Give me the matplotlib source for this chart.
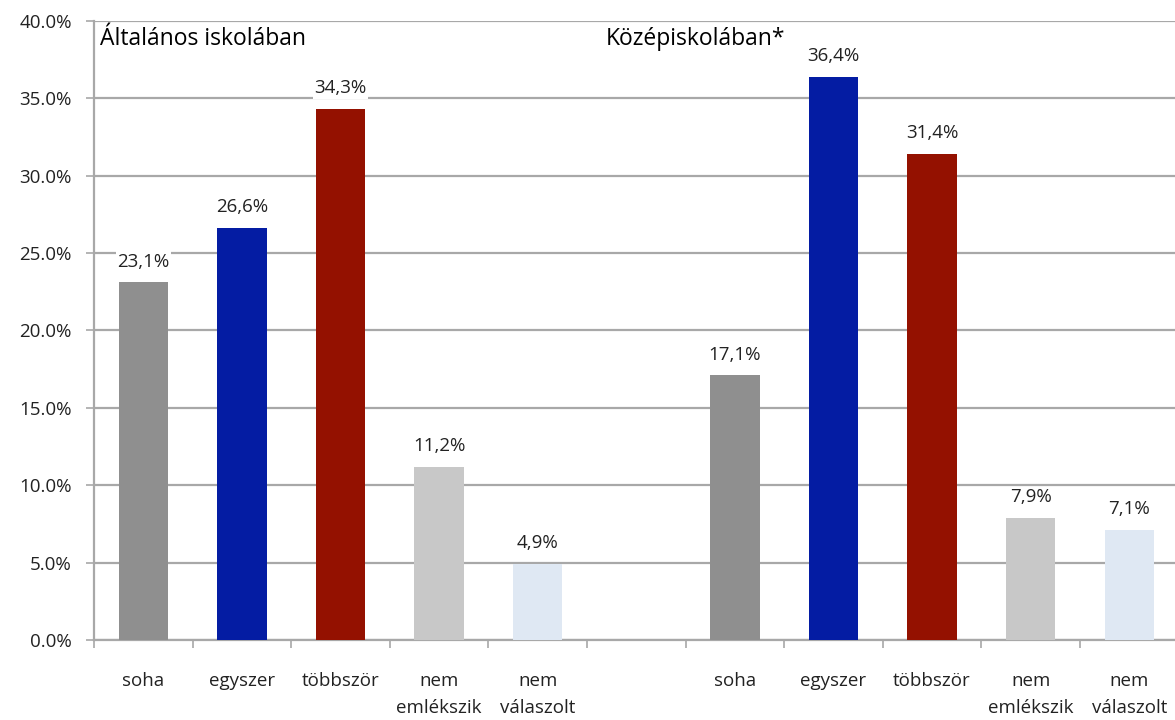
import numpy as np
import matplotlib
matplotlib.use("Agg")
import matplotlib.pyplot as plt

categories = ["soha", "egyszer", "többször", "nem\nemlékszik", "nem\nválaszolt"]
elementary = [23.1, 26.6, 34.3, 11.2, 4.9]
secondary = [17.1, 36.4, 31.4, 7.9, 7.1]
group_titles = ["Általános iskolában", "Középiskolában*"]
bar_colors = ["#8f8f8f", "#041ca3", "#941100", "#c8c8c8", "#dfe8f3"]

plt.rcParams["font.family"] = ["Open Sans", "DejaVu Sans"]

fig = plt.figure(figsize=(11.75, 7.2), dpi=100)
ax = fig.add_axes([0.08, 0.111, 0.923, 0.86])

x1 = np.arange(5)
x2 = np.arange(6, 11)
ax.bar(x1, elementary, width=0.5, color=bar_colors, zorder=3)
ax.bar(x2, secondary, width=0.5, color=bar_colors, zorder=3)

for xs, vals in [(x1, elementary), (x2, secondary)]:
    for x, v in zip(xs, vals):
        ax.annotate(f"{v:.1f}%".replace(".", ","), (x, v), xytext=(0, 15),
                    textcoords="offset points", ha="center", va="center",
                    fontsize=13.5, color="#222222", zorder=4,
                    bbox=dict(facecolor="white", edgecolor="none", pad=1))

ax.set_xlim(-0.5, 10.5)
ax.set_ylim(0, 40)
ax.set_yticks(np.arange(0, 41, 5))
ax.set_yticklabels([f"{t:.1f}%" for t in np.arange(0, 41, 5)], fontsize=13.5,
                   color="#222222", va="center_baseline")
ax.yaxis.grid(True, color="#a8a8a8", lw=1.6, zorder=0)
ax.tick_params(axis="y", length=6, color="#a8a8a8", width=1.2, pad=10)

# category labels centered, tick marks at boundaries
ax.set_xticks(np.arange(-0.5, 11, 1), minor=False)
ax.set_xticklabels([])
ax.set_xticks(list(x1) + list(x2), minor=True)
ax.set_xticklabels(categories + categories, minor=True, fontsize=13.5,
                   color="#222222", va="top", linespacing=1.65)
ax.tick_params(axis="x", which="major", length=6, color="#a8a8a8", width=1.2)
ax.tick_params(axis="x", which="minor", length=0, pad=23)

for s in ["top", "right"]:
    ax.spines[s].set_visible(False)
for s in ["left", "bottom"]:
    ax.spines[s].set_color("#a8a8a8")
    ax.spines[s].set_linewidth(1.6)

ax.text(0.0055, 0.961, group_titles[0], transform=ax.transAxes, fontsize=16.5,
        va="baseline", ha="left")
ax.text(0.4716, 0.961, group_titles[1], transform=ax.transAxes, fontsize=16.5,
        va="baseline", ha="left")

plt.savefig("out.png", dpi=100)
plt.close()
